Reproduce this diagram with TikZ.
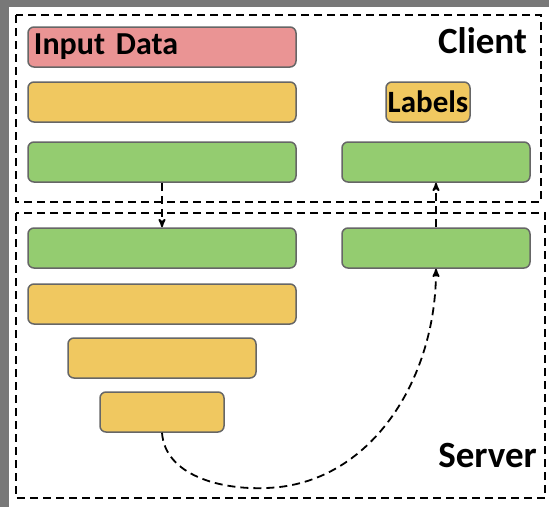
\documentclass[tikz,border=0pt]{standalone}
\usepackage{fontspec}
\setmainfont{Carlito}
\usetikzlibrary{arrows}

\definecolor{inputred}{RGB}{234,148,148}
\definecolor{layeryellow}{RGB}{240,200,96}
\definecolor{layergreen}{RGB}{148,204,112}
\definecolor{framegray}{RGB}{120,120,120}

\begin{document}
\begin{tikzpicture}[x=1pt,y=-1pt,>=stealth',
    bar/.style={draw=black!60, line width=1.5pt, rounded corners=6pt,
      minimum height=40pt, inner sep=0pt},
    wide/.style={bar, minimum width=268pt},
    side/.style={bar, minimum width=188pt},
    zone/.style={line width=1.8pt, dash pattern=on 8pt off 5pt},
    flow/.style={->, line width=1.8pt, dash pattern=on 8pt off 5pt},
    title/.style={font=\bfseries\fontsize{37}{40}\selectfont, anchor=east, inner sep=0pt}]
    % background and frame
    \fill[framegray] (0,0) rectangle (549,507);
    \fill[white] (9,7) rectangle (549,507);
    \useasboundingbox (0,0) rectangle (549,507);

    % client side
    \node[wide, fill=inputred, text width=256pt, inner xsep=6pt, align=left,
      font=\bfseries\fontsize{32}{34}\selectfont] (input) at (162,47) {Input Data};
    \node[wide, fill=layeryellow] (cenc)  at (162,102) {};
    \node[wide, fill=layergreen]  (ccut)  at (162,162) {};
    \node[bar, fill=layeryellow, minimum width=84pt,
      font=\bfseries\fontsize{31}{33}\selectfont] (labels) at (428,102) {Labels};
    \node[side, fill=layergreen]  (cgrad) at (436,162) {};
    \node[title] (client) at (527,41) {Client};

    % server side
    \node[wide, fill=layergreen]  (scut)  at (162,248) {};
    \node[side, fill=layergreen]  (sgrad) at (436,248) {};
    \node[wide, fill=layeryellow] (s1)    at (162,304) {};
    \node[bar, fill=layeryellow, minimum width=188pt] (s2) at (162,358) {};
    \node[bar, fill=layeryellow, minimum width=124pt] (s3) at (162,412) {};
    \node[title] (server) at (537,455) {Server};

    % zones
    \draw[zone] (16,15) rectangle (541,202);
    \draw[zone] (16,213) rectangle (545,498);

    % connectors
    \draw[flow] (ccut.south) -- (scut.north);
    \draw[flow] (sgrad.north) -- (cgrad.south);
    \coordinate (low) at (266,488);
    \draw[flow] (s3.south) .. controls (165,475) and (220,490) .. (low)
      .. controls (370,485) and (436,380) .. (sgrad.south);
\end{tikzpicture}
\end{document}
